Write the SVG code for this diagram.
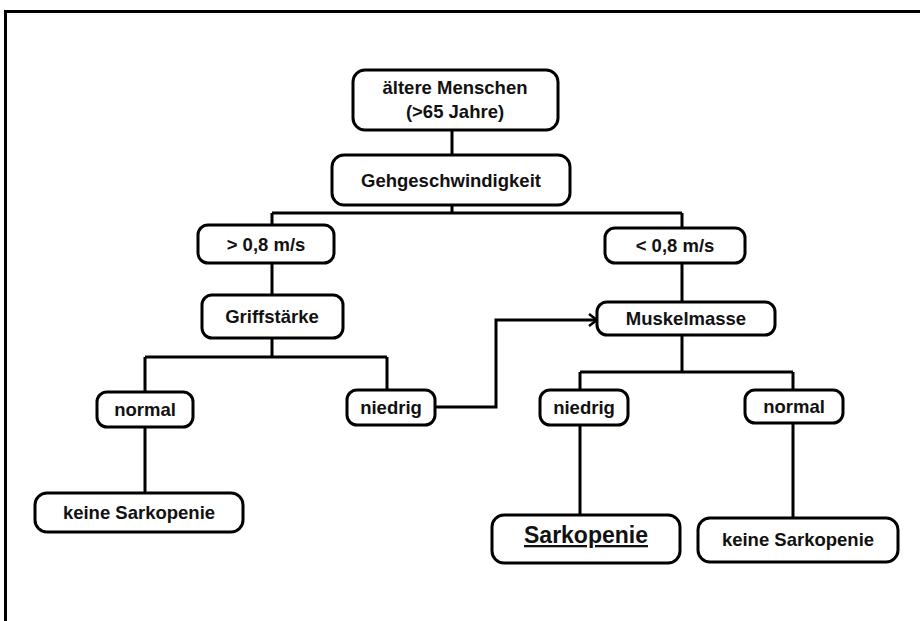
<svg xmlns="http://www.w3.org/2000/svg" width="920" height="621" viewBox="0 0 920 621">
<defs>
<style>
.box{fill:#fff;stroke:#000;stroke-width:3}
.t{font-family:"Liberation Sans",Arial,sans-serif;font-weight:bold;font-size:18.5px;fill:#111;text-anchor:middle}
.big{font-size:23px}
.c{fill:none;stroke:#000;stroke-width:3}
</style>
<marker id="arr" markerWidth="14" markerHeight="14" refX="11" refY="7" orient="auto" markerUnits="userSpaceOnUse">
<polyline points="3,1 11,7 3,13" fill="none" stroke="#000" stroke-width="2.5"/>
</marker>
</defs>
<rect width="920" height="621" fill="#fff"/>
<path d="M5.5,621 V11.5 H920" fill="none" stroke="#000" stroke-width="3"/>
<g id="connectors">
<path class="c" d="M452,130 V155 M452,205 V213 M272,213 H682 M272,213 V225 M682,213 V228"/>
<path class="c" d="M272,263 V295 M272,338 V357 M145,357 H387 M145,357 V392 M145,427 V493 M387,357 V390"/>
<path class="c" d="M682,263 V302 M682,335 V372 M580,372 H793 M580,372 V390 M580,425 V515 M793,372 V390 M793,423 V518"/>
<path class="c" d="M435,407 H496 V320 H597" marker-end="url(#arr)"/>
</g>
<g id="n1"><rect class="box" x="353" y="70" width="205" height="60" rx="12"/><text class="t" x="455" y="94">ältere Menschen</text><text class="t" x="455" y="118">(&gt;65 Jahre)</text></g>
<g id="n2"><rect class="box" x="332" y="155" width="238" height="50" rx="12"/><text class="t" x="451" y="187">Gehgeschwindigkeit</text></g>
<g id="n3"><rect class="box" x="198" y="225" width="136" height="38" rx="10"/><text class="t" x="266" y="251">&gt; 0,8 m/s</text></g>
<g id="n4"><rect class="box" x="605" y="228" width="140" height="35" rx="10"/><text class="t" x="675" y="252">&lt; 0,8 m/s</text></g>
<g id="n5"><rect class="box" x="202" y="295" width="141" height="43" rx="10"/><text class="t" x="272" y="323">Griffstärke</text></g>
<g id="n6"><rect class="box" x="597" y="302" width="178" height="33" rx="10"/><text class="t" x="686" y="325">Muskelmasse</text></g>
<g id="n7"><rect class="box" x="97" y="392" width="96" height="35" rx="10"/><text class="t" x="145" y="416">normal</text></g>
<g id="n8"><rect class="box" x="347" y="390" width="88" height="35" rx="10"/><text class="t" x="391" y="414">niedrig</text></g>
<g id="n9"><rect class="box" x="540" y="390" width="88" height="35" rx="10"/><text class="t" x="584" y="414">niedrig</text></g>
<g id="n10"><rect class="box" x="745" y="390" width="98" height="33" rx="10"/><text class="t" x="794" y="413">normal</text></g>
<g id="n11"><rect class="box" x="35" y="493" width="208" height="39" rx="12"/><text class="t" x="139" y="519">keine Sarkopenie</text></g>
<g id="n12"><rect class="box" x="492" y="515" width="188" height="48" rx="12"/><text class="t big" x="586" y="543" text-decoration="underline">Sarkopenie</text></g>
<g id="n13"><rect class="box" x="698" y="518" width="200" height="44" rx="12"/><text class="t" x="798" y="546">keine Sarkopenie</text></g>
</svg>
